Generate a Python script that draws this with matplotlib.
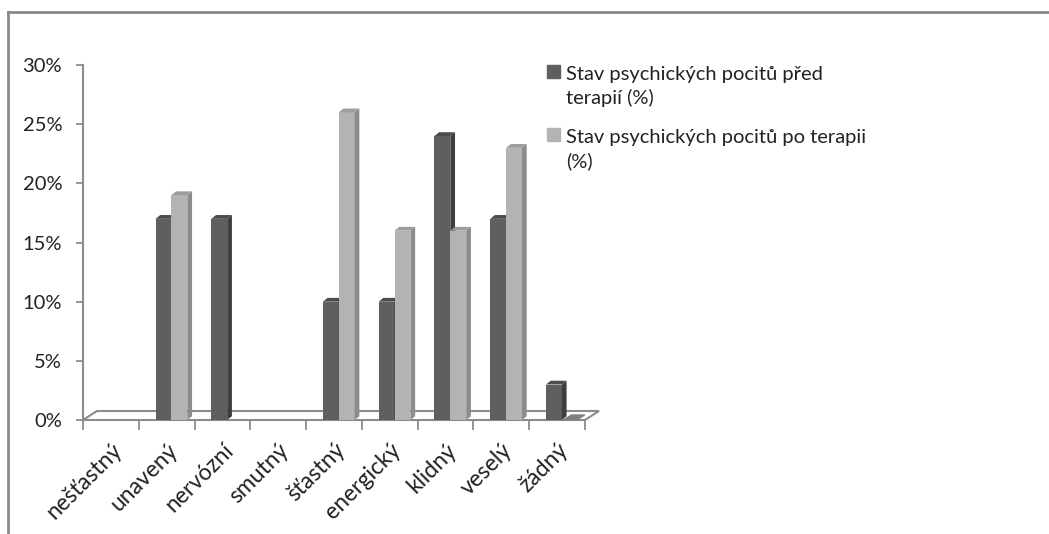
import numpy as np
import matplotlib.pyplot as plt
from matplotlib.patches import Polygon, Rectangle
from matplotlib.lines import Line2D

plt.rcParams['font.family'] = ['Lato', 'DejaVu Sans']

# pocity pred a po terapii (%), nan = bez hodnoty
kategorie = ["nešťastný", "unavený", "nervózní", "smutný", "šťastný",
             "energický", "klidný", "veselý", "žádný"]
pred = [np.nan, 17, 17, np.nan, 10, 10, 24, 17, 3]
po = [np.nan, 19, np.nan, np.nan, 26, 16, 16, 23, 0]
popisky = ["Stav psychických pocitů před\nterapií (%)",
           "Stav psychických pocitů po terapii\n(%)"]
yticky = [0, 5, 10, 15, 20, 25, 30]

W, H = 1049, 534
fig = plt.figure(figsize=(W / 100, H / 100), dpi=100)
ax = fig.add_axes([83 / W, 1 - 420 / H, (585 - 83) / W, (420 - 65) / H])
ax.set_xlim(0, 9)
ax.set_ylim(0, 30)

seda = '#8c8c8c'
for s in ['top', 'right', 'bottom']:
    ax.spines[s].set_visible(False)
ax.spines['left'].set_color(seda)
ax.spines['left'].set_linewidth(1.5)

# podlaha grafu
fdx, fdy = 0.25, 0.76
ax.add_patch(Polygon([(0, 0), (9, 0), (9 + fdx, fdy), (fdx, fdy)], closed=True,
                     facecolor='white', edgecolor=seda, lw=1.5, clip_on=False, zorder=1))

# sloupce s bocni stenou a vikem
sdx, sdy = 0.085, 0.32
sirka = 0.285
serie = [(pred, 0.30, ('#5f5f5f', '#3e3e3e', '#4b4b4b')),
         (po, 0.585, ('#b3b3b3', '#8c8c8c', '#9c9c9c'))]
z = 3
for hodnoty, posun, (cel, bok, vrch) in serie:
    for i, h in enumerate(hodnoty):
        if np.isnan(h):
            continue
        x0 = i + posun
        x1 = x0 + sirka
        if h > 0:
            ax.bar(x0, h, width=sirka, align='edge', color=cel, lw=0, zorder=z)
            ax.add_patch(Polygon([(x1, 0), (x1 + sdx, sdy), (x1 + sdx, h + sdy), (x1, h)],
                                 closed=True, facecolor=bok, lw=0, zorder=z))
            ax.add_patch(Polygon([(x0, h), (x1, h), (x1 + sdx, h + sdy), (x0 + sdx, h + sdy)],
                                 closed=True, facecolor=vrch, lw=0, zorder=z))
        else:
            ax.add_patch(Polygon([(x0, 0), (x1, 0), (x1 + sdx * 2, sdy * 1.5), (x0 + sdx * 2, sdy * 1.5)],
                                 closed=True, facecolor='#7f7f7f', lw=0, zorder=z))
    z += 1

ax.set_yticks(yticky)
ax.set_yticklabels([f"{v}%" for v in yticky])
ax.tick_params(axis='y', length=5, width=1.3, color=seda, pad=10,
               labelsize=14.5, labelcolor='#222222')

ax.set_xticks(range(10))
ax.set_xticklabels([])
ax.set_xticks([i + 0.5 for i in range(9)], minor=True)
ax.set_xticklabels(kategorie, minor=True, rotation=45, ha='right', va='top',
                   rotation_mode='anchor')
ax.tick_params(axis='x', which='major', length=7, width=1.3, color=seda)
ax.tick_params(axis='x', which='minor', length=0, pad=14,
               labelsize=16.5, labelcolor='#222222')

# legenda
barvy = ['#5f5f5f', '#b3b3b3']
stredy = [86.5, 149.5]
ctverce = [65, 128]
for b, s, c, t in zip(barvy, stredy, ctverce, popisky):
    fig.patches.append(Rectangle((547 / W, 1 - (c + 13) / H), 13 / W, 13 / H,
                                 transform=fig.transFigure, color=b))
    fig.text(566 / W, 1 - s / H, t, ha='left', va='center', fontsize=14.5,
             color='#222222', linespacing=1.4)

# ramecek grafu
ramecek = dict(color='#8a8a8a', lw=2, transform=fig.transFigure)
fig.lines.append(Line2D([8 / W, 8 / W], [0, 1 - 12 / H], **ramecek))
fig.lines.append(Line2D([8 / W, 1], [1 - 12 / H, 1 - 12 / H], **ramecek))

fig.savefig('out.png', dpi=100)
